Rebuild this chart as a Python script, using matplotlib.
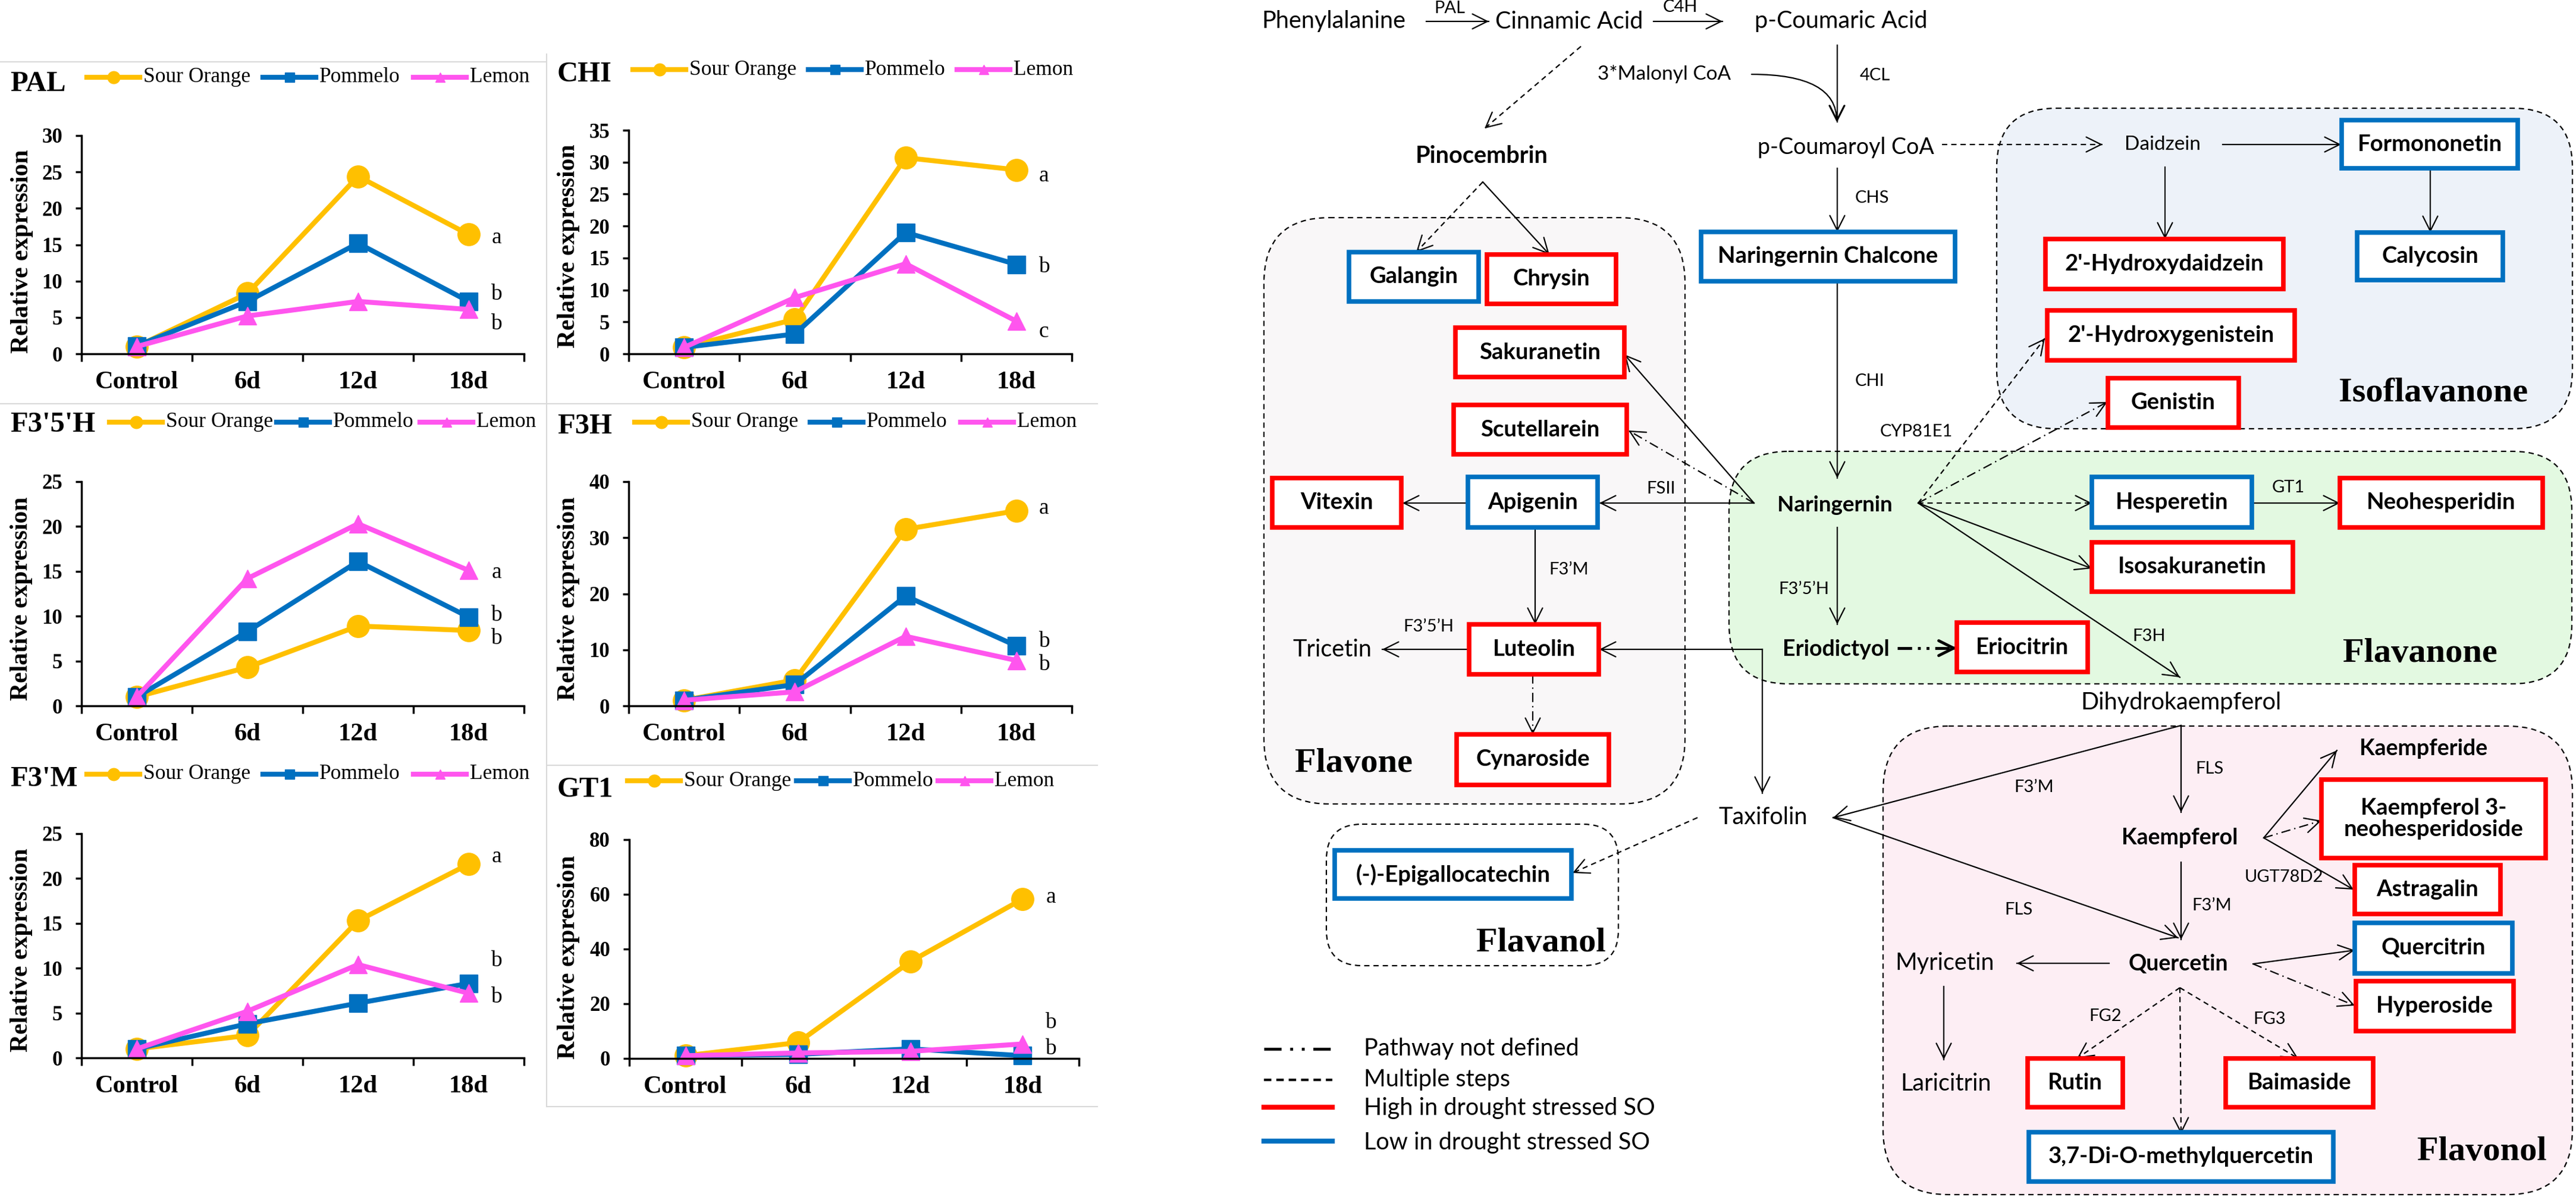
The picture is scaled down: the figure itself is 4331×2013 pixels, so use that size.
import numpy as np
import matplotlib
matplotlib.use('Agg')
import matplotlib.pyplot as plt
from matplotlib.patches import FancyArrowPatch, FancyBboxPatch, Rectangle

W, H = 4331, 2013

days = ['Control', '6d', '12d', '18d']
genes = ['PAL', 'CHI', "F3'5'H", 'F3H', "F3'M", 'GT1']
series = ['Sour Orange', 'Pommelo', 'Lemon']

# relative expression, one row per gene
sour_orange = [[1.0, 8.3, 24.4, 16.4],
               [1.0, 5.4, 30.7, 28.8],
               [1.0, 4.3, 8.9, 8.4],
               [1.0, 4.6, 31.5, 34.8],
               [1.0, 2.5, 15.3, 21.6],
               [1.0, 5.8, 35.4, 58.3]]
pommelo = [[1.1, 7.2, 15.2, 7.2],
           [1.0, 3.1, 19.0, 14.0],
           [1.0, 8.3, 16.1, 9.9],
           [1.0, 3.8, 19.6, 10.7],
           [1.0, 3.8, 6.1, 8.3],
           [1.0, 1.5, 3.5, 1.0]]
lemon = [[1.0, 5.2, 7.2, 6.1],
         [1.0, 8.8, 14.1, 5.1],
         [1.0, 14.2, 20.3, 15.1],
         [1.0, 2.5, 12.4, 8.1],
         [1.0, 5.2, 10.4, 7.2],
         [1.0, 2.0, 2.6, 5.3]]
sig_letters = [['a', 'b', 'b'], ['a', 'b', 'c'], ['a', 'b', 'b'],
               ['a', 'b', 'b'], ['a', 'b', 'b'], ['a', 'b', 'b']]
sig_y = [[16.0, 8.2, 4.1], [27.9, 13.6, 3.5], [14.9, 10.1, 7.5],
         [35.2, 11.5, 7.4], [22.4, 10.8, 6.8], [59.0, 13.0, 3.5]]
y_max = [30, 35, 25, 40, 25, 80]
y_step = [5, 5, 5, 10, 5, 20]

# pixel layout of the six panels (x0, x1, y at top of axis, y at zero)
panel_box = [(137, 881, 228, 595), (1057, 1802, 219, 595),
             (137, 881, 810, 1187), (1057, 1802, 810, 1187),
             (137, 881, 1402, 1779), (1058, 1814, 1412, 1780)]
title_pos = [(17, 141), (937, 125), (17, 714), (937, 717), (17, 1310), (937, 1328)]
legend_y = [130, 117, 710, 710, 1302, 1313]
legend_x = [(146, 442, 695), (1064, 1359, 1609), (184, 465, 706),
            (1067, 1362, 1615), (146, 442, 695), (1055, 1339, 1577)]
ylabel_pos = [(37, 423), (956, 414), (36, 1007), (956, 1007), (36, 1598), (956, 1610)]

colors = ['#FFC000', '#0070C0', '#FF55EE']
markers = ['o', 's', '^']
msizes = [27, 21, 22]

plt.rcParams['font.family'] = ['Liberation Serif', 'DejaVu Serif']
fig = plt.figure(figsize=(W / 100, H / 100), dpi=100)

# full-figure axes in pixel units for the pathway, legends and panel frames
dax = fig.add_axes([0, 0, 1, 1], zorder=0)
dax.set_xlim(0, W)
dax.set_ylim(H, 0)
dax.axis('off')

for i, g in enumerate(genes):
    x0, x1, yt, yb = panel_box[i]
    ax = fig.add_axes([x0 / W, 1 - yb / H, (x1 - x0) / W, (yb - yt) / H], zorder=2)
    ax.patch.set_alpha(0)
    for vals, c, m, ms, name in zip([sour_orange[i], pommelo[i], lemon[i]],
                                    colors, markers, msizes, series):
        ax.plot(range(4), vals, color=c, lw=6, marker=m, ms=ms, mec=c,
                label=name, clip_on=False)
    ax.set_xlim(-0.5, 3.5)
    ax.set_ylim(0, y_max[i])
    ax.spines[['top', 'right']].set_visible(False)
    ax.spines[['left', 'bottom']].set_linewidth(2.5)
    ax.set_xticks([-0.5, 0.5, 1.5, 2.5, 3.5])
    ax.set_xticklabels([])
    ax.set_xticks(range(4), minor=True)
    ax.set_xticklabels(days, minor=True, fontsize=30.5, fontweight='bold')
    ax.tick_params(axis='x', which='major', direction='out', length=9, width=2.5)
    ax.tick_params(axis='x', which='minor', length=0, pad=21)
    ax.set_yticks(np.arange(0, y_max[i] + 1, y_step[i]))
    ax.tick_params(axis='y', direction='out', length=7, width=2.5, pad=16, labelsize=25)
    for lab in ax.get_yticklabels():
        lab.set_fontweight('bold')
    for s, yv in zip(sig_letters[i], sig_y[i]):
        ax.text(3.25, yv, s, fontsize=27, ha='center', va='center', clip_on=False)

    # legend row above the panel
    ly = legend_y[i]
    for j in range(3):
        xs = legend_x[i][j]
        dax.plot([xs, xs + 89], [ly, ly], color=colors[j], lw=6)
        dax.plot([xs + 44.5], [ly], marker=markers[j], ms=msizes[j] * 0.55,
                 color=colors[j], mec=colors[j])
        dax.text(xs + 95, ly, series[j], fontsize=25.5, ha='left', va='center')

    tx, ty = title_pos[i]
    dax.text(tx, ty, g, fontsize=35, fontweight='bold', ha='left', va='center')
    yx, yy = ylabel_pos[i]
    dax.text(yx, yy, 'Relative expression', fontsize=30, fontweight='bold',
             rotation=90, ha='center', va='center')

# light frames round the pasted panels
for xa, ya, xb, yb2 in [(0, 104, 919, 104), (0, 679, 1845, 679), (919, 91, 919, 1861),
                        (919, 1287, 1845, 1287), (919, 1861, 1845, 1861)]:
    dax.plot([xa, xb], [ya, yb2], color='#D9D9D9', lw=1.5)

# ---------------- pathway ----------------
dash = (0, (4, 3))
dashdot = (0, (7, 3, 1, 3))
sans = 'Lato'

def region(x0, y0, x1, y1, fc, r):
    dax.add_patch(FancyBboxPatch((x0, y0), x1 - x0, y1 - y0,
                                 boxstyle='round,pad=0,rounding_size=%d' % r,
                                 fc=fc, ec='black', lw=1.6, ls=dash, zorder=1))

region(2125, 366, 2833, 1352, '#F9F7F8', 110)
region(3357, 182, 4325, 721, '#EDF2F9', 100)
region(2907, 759, 4324, 1150, '#E3F9E1', 100)
region(2230, 1386, 2721, 1624, 'white', 60)
region(3166, 1221, 4325, 2009, '#FDEEF4', 110)

def arrow(x0, y0, x1, y1, ls='-', lw=1.6, head=True):
    dax.plot([x0, x1], [y0, y1], color='black', lw=lw, ls=ls, zorder=3)
    if head:
        d = np.hypot(x1 - x0, y1 - y0)
        ux, uy = (x1 - x0) / d, (y1 - y0) / d
        dax.add_patch(FancyArrowPatch((x1 - ux * 3, y1 - uy * 3), (x1, y1),
                                      arrowstyle='->,head_length=0.9,head_width=0.45',
                                      mutation_scale=20, lw=lw, color='black',
                                      shrinkA=0, shrinkB=0, zorder=3))

arrows = [
    (2398, 36, 2503, 36, '-'), (2780, 36, 2896, 36, '-'),
    (2658, 78, 2496, 216, dash), (3089, 76, 3089, 205, '-'),
    (3089, 283, 3089, 390, '-'), (3265, 243, 3535, 243, dash),
    (3737, 243, 3936, 243, '-'), (3640, 281, 3640, 402, '-'),
    (4086, 286, 4086, 391, '-'), (2493, 306, 2381, 424, dash),
    (2493, 306, 2605, 428, '-'), (3089, 473, 3089, 804, '-'),
    (2949, 846, 2731, 596, '-'), (2949, 846, 2738, 724, dashdot),
    (2949, 846, 2689, 846, '-'), (2468, 846, 2358, 846, '-'),
    (2581, 887, 2581, 1050, '-'), (2470, 1092, 2324, 1092, '-'),
    (2577, 1134, 2577, 1235, dashdot), (2963, 1092, 2689, 1092, '-'),
    (2963, 1092, 2963, 1334, '-'), (3089, 887, 3089, 1050, '-'),
    (3225, 846, 3517, 846, dash), (3225, 846, 3517, 956, '-'),
    (3225, 846, 3665, 1139, '-'), (3225, 846, 3438, 569, dash),
    (3225, 846, 3543, 676, dashdot), (3786, 846, 3934, 846, '-'),
    (3667, 1220, 3667, 1366, '-'), (3667, 1220, 3082, 1375, '-'),
    (3082, 1375, 3662, 1577, '-'), (2854, 1375, 2644, 1468, dash),
    (3806, 1409, 3929, 1262, '-'), (3806, 1409, 3903, 1380, dashdot),
    (3806, 1409, 3957, 1496, '-'), (3667, 1450, 3667, 1580, '-'),
    (3788, 1621, 3959, 1598, '-'), (3788, 1621, 3959, 1691, dashdot),
    (3546, 1620, 3391, 1620, '-'), (3268, 1659, 3268, 1782, '-'),
    (3665, 1661, 3492, 1780, dash), (3665, 1661, 3864, 1780, dash),
    (3665, 1661, 3667, 1907, dash),
]
for xa, ya, xb, yb2, ls in arrows:
    arrow(xa, ya, xb, yb2, ls)
arrow(3190, 1090, 3290, 1090, (0, (5, 2, 1, 2, 1, 2)), lw=3.5)
dax.add_patch(FancyArrowPatch((2945, 125), (3088, 205),
                              connectionstyle='angle3,angleA=0,angleB=90',
                              arrowstyle='->,head_length=0.9,head_width=0.45',
                              mutation_scale=20, lw=1.6, color='black',
                              shrinkA=0, shrinkB=0, zorder=3))

red, blue = '#FF0000', '#0070C0'
boxes = [
    (2268, 2486, 424, 507, blue, 'Galangin'),
    (2500, 2717, 428, 511, red, 'Chrysin'),
    (2860, 3287, 390, 473, blue, 'Naringernin Chalcone'),
    (2447, 2731, 551, 634, red, 'Sakuranetin'),
    (2444, 2735, 681, 764, red, 'Scutellarein'),
    (2139, 2356, 804, 887, red, 'Vitexin'),
    (2468, 2686, 802, 887, blue, 'Apigenin'),
    (2470, 2688, 1050, 1134, red, 'Luteolin'),
    (2449, 2705, 1235, 1320, red, 'Cynaroside'),
    (3937, 4233, 202, 283, blue, 'Formononetin'),
    (3439, 3839, 402, 486, red, "2'-Hydroxydaidzein"),
    (3963, 4208, 391, 471, blue, 'Calycosin'),
    (3442, 3858, 522, 606, red, "2'-Hydroxygenistein"),
    (3544, 3764, 636, 719, red, 'Genistin'),
    (3517, 3786, 802, 887, blue, 'Hesperetin'),
    (3934, 4275, 804, 887, red, 'Neohesperidin'),
    (3517, 3855, 912, 995, red, 'Isosakuranetin'),
    (3290, 3510, 1047, 1130, red, 'Eriocitrin'),
    (2244, 2642, 1430, 1511, blue, '(-)-Epigallocatechin'),
    (3903, 4280, 1311, 1443, red, 'Kaempferol 3-\nneohesperidoside'),
    (3959, 4204, 1455, 1537, red, 'Astragalin'),
    (3959, 4224, 1552, 1637, blue, 'Quercitrin'),
    (3961, 4226, 1650, 1734, red, 'Hyperoside'),
    (3409, 3569, 1780, 1862, red, 'Rutin'),
    (3742, 3990, 1780, 1862, red, 'Baimaside'),
    (3411, 3923, 1904, 1987, blue, '3,7-Di-O-methylquercetin'),
]
for xa, xb, ya, yb2, c, lab in boxes:
    dax.add_patch(Rectangle((xa, ya), xb - xa, yb2 - ya, fc='white', ec=c, lw=5.5, zorder=4))
    dax.text((xa + xb) / 2, (ya + yb2) / 2, lab, ha='center', va='center', fontsize=27.5,
             fontweight='bold', family=sans, zorder=5, linespacing=1.1)

plain = [(2242, 36, 'Phenylalanine', 28.5), (2638, 36, 'Cinnamic Acid', 28.5),
         (3095, 36, 'p-Coumaric Acid', 28.5), (2798, 125, '3*Malonyl CoA', 24),
         (3103, 248, 'p-Coumaroyl CoA', 27), (3636, 243, 'Daidzein', 24),
         (2240, 1092, 'Tricetin', 28.5), (3667, 1181, 'Dihydrokaempferol', 28.5),
         (2964, 1375, 'Taxifolin', 28.5), (3270, 1620, 'Myricetin', 28.5),
         (3272, 1823, 'Laricitrin', 28.5)]
for xa, ya, s, fs in plain:
    dax.text(xa, ya, s, ha='center', va='center', fontsize=fs, family=sans, zorder=5)

bold = [(2491, 263, 'Pinocembrin', 28.5), (3085, 849, 'Naringernin', 26.5),
        (3087, 1092, 'Eriodictyol', 27), (4075, 1259, 'Kaempferide', 27),
        (3665, 1409, 'Kaempferol', 27), (3662, 1621, 'Quercetin', 27)]
for xa, ya, s, fs in bold:
    dax.text(xa, ya, s, ha='center', va='center', fontsize=fs, fontweight='bold',
             family=sans, zorder=5)

enzymes = [(2437, 14, 'PAL'), (2825, 12, 'C4H'), (3152, 127, '4CL'), (3147, 333, 'CHS'),
           (3143, 641, 'CHI'), (3222, 726, 'CYP81E1'), (2793, 822, 'FSII'),
           (2638, 958, 'F3’M'), (2402, 1054, 'F3’5’H'), (3033, 991, 'F3’5’H'),
           (3847, 820, 'GT1'), (3613, 1070, 'F3H'), (3715, 1293, 'FLS'),
           (3420, 1324, 'F3’M'), (3394, 1530, 'FLS'), (3840, 1475, 'UGT78D2'),
           (3719, 1523, 'F3’M'), (3540, 1709, 'FG2'), (3816, 1714, 'FG3')]
for xa, ya, s in enzymes:
    dax.text(xa, ya, s, ha='center', va='center', fontsize=21, family=sans, zorder=5)

groups = [(2177, 1284, 'Flavone'), (3932, 661, 'Isoflavanone'), (3939, 1099, 'Flavanone'),
          (2482, 1586, 'Flavanol'), (4064, 1937, 'Flavonol')]
for xa, ya, s in groups:
    dax.text(xa, ya, s, ha='left', va='center', fontsize=42, fontweight='bold', zorder=5)

# key
dax.plot([2125, 2240], [1764, 1764], color='black', lw=3.5, ls=(0, (6, 3, 1, 3, 1, 3)))
dax.plot([2125, 2240], [1816, 1816], color='black', lw=3, ls=(0, (3, 2)))
dax.plot([2125, 2240], [1862, 1862], color=red, lw=6)
dax.plot([2125, 2240], [1919, 1919], color=blue, lw=6)
for ya, s in [(1764, 'Pathway not defined'), (1816, 'Multiple steps'),
              (1864, 'High in drought stressed SO'), (1921, 'Low in drought stressed SO')]:
    dax.text(2293, ya, s, ha='left', va='center', fontsize=28.5, family=sans)

fig.savefig('out.png', dpi=100)
